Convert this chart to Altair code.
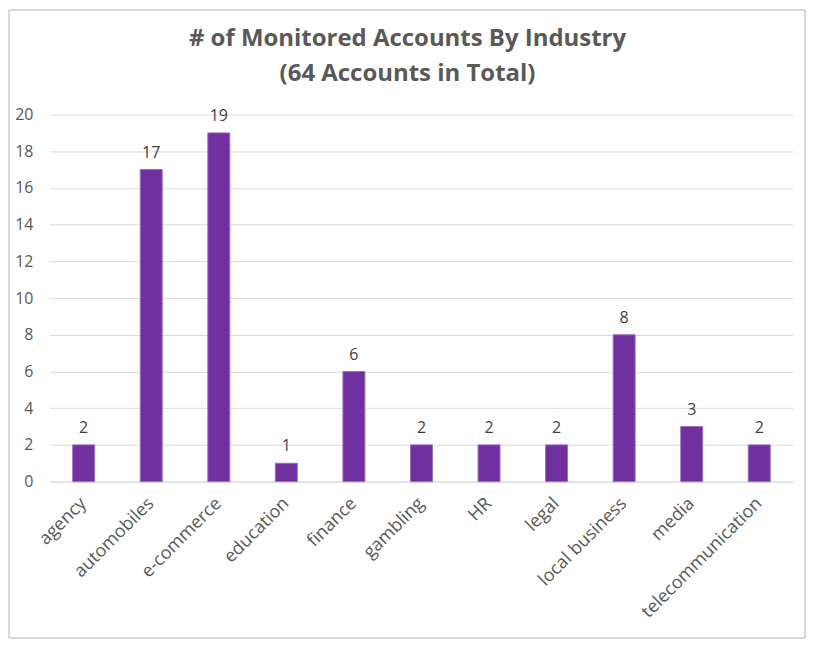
import altair as alt
import pandas as pd

categories = ["agency", "automobiles", "e-commerce", "education", "finance",
              "gambling", "HR", "legal", "local business", "media", "telecommunication"]
counts = [2, 17, 19, 1, 6, 2, 2, 2, 8, 3, 2]

df = pd.DataFrame({"industry": categories, "count": counts})

FONT = "Open Sans"
GREY = "#595959"

base = alt.Chart(df).encode(
    x=alt.X("industry:N", sort=categories, title=None,
            scale=alt.Scale(paddingInner=0.675, paddingOuter=0.3375),
            axis=alt.Axis(labelAngle=-45, labelAlign="right", labelBaseline="middle",
                          labelFontSize=18, labelColor=GREY, labelFont=FONT,
                          labelPadding=19, ticks=False, domainColor="#d9d9d9",
                          labelOverlap=False)),
    y=alt.Y("count:Q", title=None,
            scale=alt.Scale(domain=[0, 20]),
            axis=alt.Axis(values=list(range(0, 21, 2)), labelFontSize=16, labelColor=GREY,
                          labelFont=FONT, labelPadding=17, ticks=False, domain=False,
                          gridColor="#d9d9d9", gridWidth=1)),
)

bars = base.mark_bar(color="#7030A0", stroke="#9a6cc4", strokeWidth=1)
labels = base.mark_text(baseline="bottom", dy=-9, fontSize=16, font=FONT, color="#404040").encode(
    text="count:Q")

border = alt.Chart(df).mark_rect(fill=None, stroke="#d9d9d9", strokeWidth=1.5,
                                 cornerRadius=3).encode(
    x=alt.value(-41), x2=alt.value(757), y=alt.value(-105), y2=alt.value(525))

chart = alt.layer(border, bars, labels).properties(
    width=745, height=368,
    autosize=alt.AutoSizeParams(type="none"),
    padding={"left": 42, "top": 106, "right": 17, "bottom": 160},
    title=alt.TitleParams(
        text=["# of Monitored Accounts By Industry", "(64 Accounts in Total)"],
        font=FONT, fontSize=24, fontWeight="bold", color=GREY,
        anchor="middle", lineHeight=35, offset=-77, dx=-14, frame="group"),
).configure_view(stroke=None)

chart.save("out.html", embed_options={"renderer": "svg", "actions": False})
